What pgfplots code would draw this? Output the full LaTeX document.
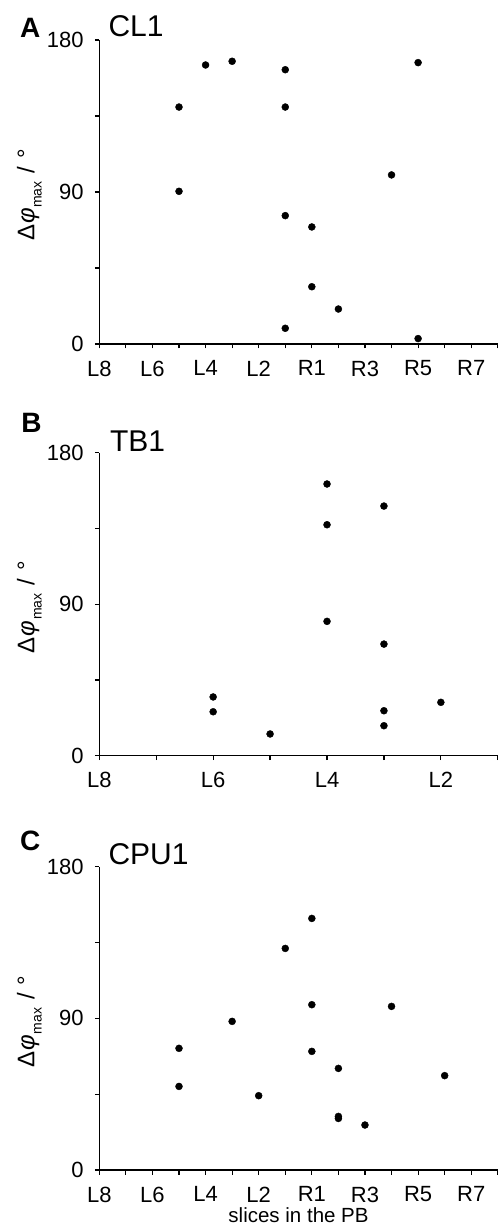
\documentclass[border=0pt]{standalone}
\usepackage{fontspec}
\setmainfont{Liberation Sans}
\usepackage{pgfplots}
\pgfplotsset{compat=1.18}

\tikzset{
  letter/.style={anchor=north west, inner sep=0pt, font=\fontsize{28bp}{30bp}\selectfont\bfseries},
  ptitle/.style={anchor=south west, inner sep=0pt, font=\fontsize{30bp}{32bp}\selectfont},
}

\pgfplotsset{
  panel/.style={
    scale only axis,
    width=398.5bp,
    axis lines=left,
    axis line style={-, line width=1.2bp},
    tick style={line width=1.2bp, black},
    tick align=outside,
    major tick length=4.5bp,
    minor tick length=4.5bp,
    ymin=0, ymax=180,
    ytick={0,90,180},
    yticklabels={0,90,180},
    minor ytick={45,135},
    enlargelimits=false,
    clip=false,
    /pgf/number format/assume math mode=true,
    tick label style={font=\fontsize{22bp}{26bp}\selectfont},
    yticklabel style={inner sep=0pt, xshift=-11bp},
    xticklabel style={inner sep=0pt, yshift=-12bp},
    ylabel={\fontsize{24bp}{26bp}\selectfont Δ\kern1bp\textit{φ}\kern0.5bp\raisebox{-0.3em}{\fontsize{14bp}{14bp}\selectfont max}\hspace{8bp}/\hspace{8bp}°},
    every axis y label/.style={at={(rel axis cs:0,0.5)}, xshift=-70bp, yshift=-3bp, rotate=90, anchor=center, inner sep=0pt},
  },
  wide/.style={
    xmin=0, xmax=15,
    xtick={0,2,...,14},
    xticklabels={L8,L6,L4,L2,R1,R3,R5,R7},
    minor xtick={1,3,...,15},
  },
  dots/.style={only marks, mark=*, black, mark size=3.5bp, mark options={fill=black, draw=black}},
}

\begin{document}
\begin{tikzpicture}
\useasboundingbox (0,0) rectangle (499bp,1227bp);

% Panel A
\begin{axis}[panel, wide, height=304bp, at={(99.3bp,883bp)}, anchor=south west]
\addplot[dots] coordinates {
 (3,140.3) (3,90.4) (4,165.2) (5,167.4)
 (7,162.4) (7,140.3) (7,76.0) (7,9.3)
 (8,69.3) (8,33.9) (9,20.7) (11,100.1)
 (12,166.6) (12,3.2)
};
\node[letter] at (rel axis cs:0,1) [xshift=-79.3bp, yshift=22bp] {A};
\node[ptitle] at (rel axis cs:0,1) [xshift=9bp, yshift=3bp] {CL1};
\end{axis}

% Panel B
\begin{axis}[panel, height=303bp, at={(99.3bp,471.3bp)}, anchor=south west,
  xmin=0, xmax=7, xtick={0,2,4,6}, xticklabels={L8,L6,L4,L2}, minor xtick={1,3,5,7}]
\addplot[dots] coordinates {
 (2,34.9) (2,26.1) (3,12.9)
 (4,161.4) (4,137.2) (4,79.8)
 (5,148.3) (5,66.3) (5,26.7) (5,17.8)
 (6,31.7)
};
\node[letter] at (rel axis cs:0,1) [xshift=-78bp, yshift=39.7bp] {B};
\node[ptitle] at (rel axis cs:0,1) [xshift=10.5bp, yshift=1bp] {TB1};
\end{axis}

% Panel C
\begin{axis}[panel, wide, height=303.3bp, at={(99.3bp,57bp)}, anchor=south west,
  xlabel={slices in the PB},
  xlabel style={at={(rel axis cs:0.5,0)}, anchor=north, inner sep=0pt, yshift=-37.5bp, font=\fontsize{20.5bp}{24bp}\selectfont}]
\addplot[dots] coordinates {
 (3,72.2) (3,49.6) (5,88.2) (6,44.1) (7,131.5)
 (8,149.3) (8,98.1) (8,70.4)
 (9,60.3) (9,30.6) (9,31.8) (10,26.7)
 (11,97.1) (13,56.0)
};
\node[letter] at (rel axis cs:0,1) [xshift=-79.3bp, yshift=35.5bp] {C};
\node[ptitle] at (rel axis cs:0,1) [xshift=9bp, yshift=1.7bp] {CPU1};
\end{axis}
\end{tikzpicture}
\end{document}
